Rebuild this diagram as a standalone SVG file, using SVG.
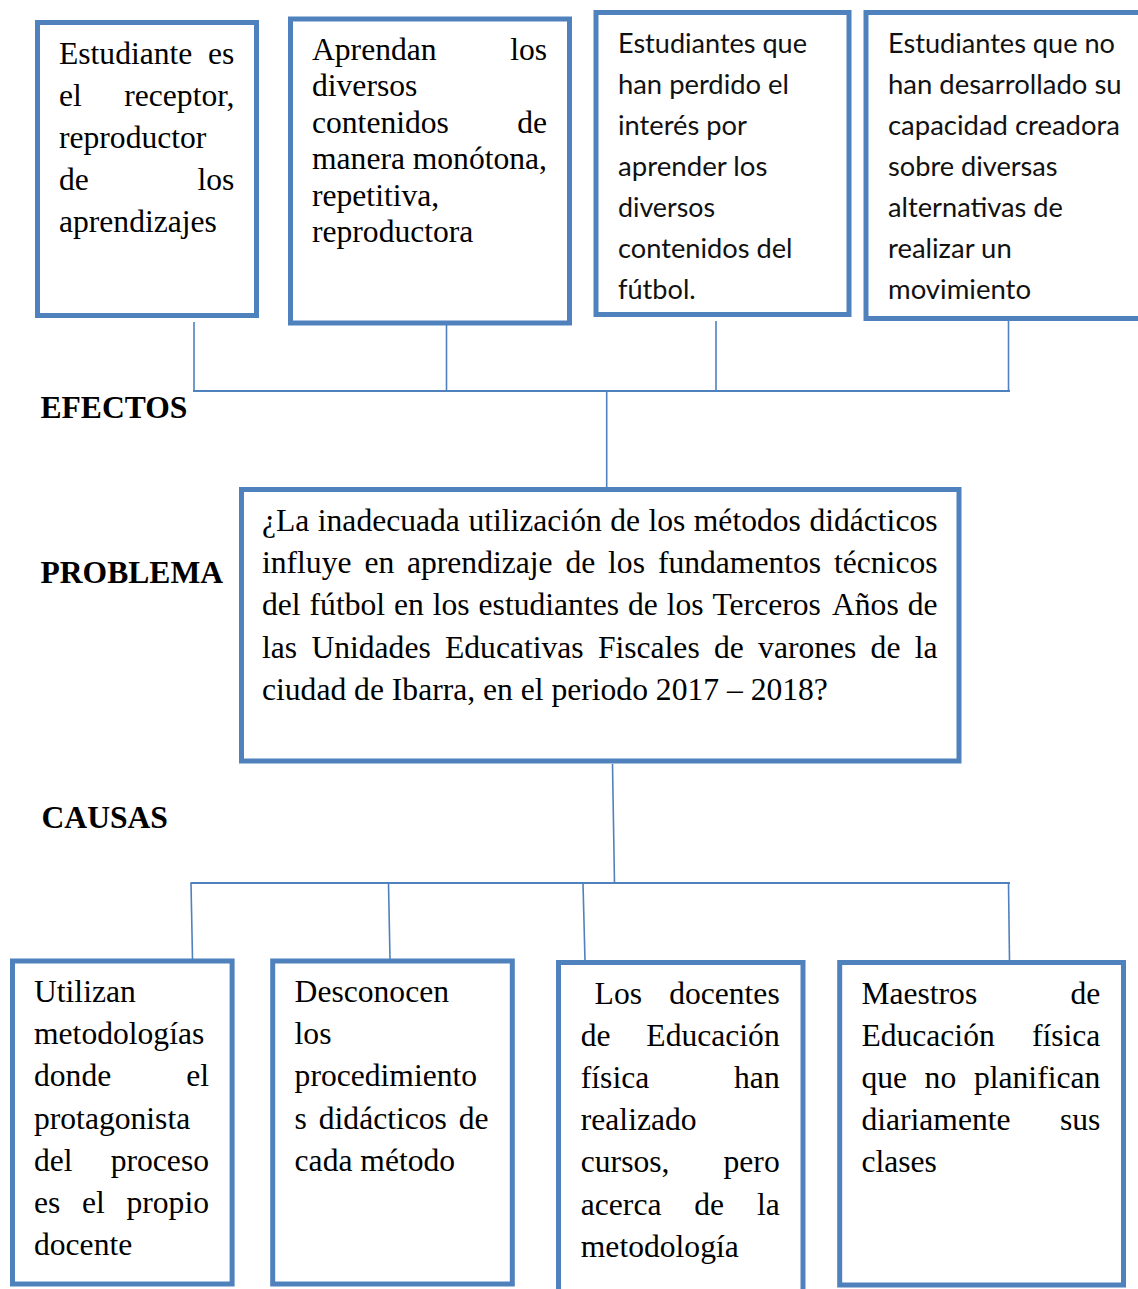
<svg xmlns="http://www.w3.org/2000/svg" width="1138" height="1289" viewBox="0 0 1138 1289">
<style>
.box{fill:#fff;stroke:#4F81BD;stroke-width:5}
.conn line{stroke:#4F81BD;stroke-width:1.6;fill:none}
.s{font-family:"Liberation Serif","Times New Roman",serif;font-size:31.6px;fill:#000}
.e{text-anchor:end}
.ss{font-family:Lato,"Open Sans",sans-serif;font-size:26px;fill:#111}
.lbl{font-family:"Liberation Serif","Times New Roman",serif;font-size:31.6px;font-weight:bold;fill:#000}
</style>
<rect width="1138" height="1289" fill="#fff"/>
<g id="connectors" class="conn">
<line x1="194" y1="322" x2="194" y2="391"/>
<line x1="446.5" y1="325" x2="446.5" y2="391"/>
<line x1="716" y1="321" x2="716" y2="391"/>
<line x1="1008.5" y1="320" x2="1008.5" y2="391"/>
<line x1="193" y1="391" x2="1010" y2="391" style="stroke-width:2"/>
<line x1="606.7" y1="391" x2="606.7" y2="488"/>
<line x1="612.5" y1="764" x2="614.5" y2="884"/>
<line x1="190.5" y1="883" x2="1010" y2="883" style="stroke-width:2"/>
<line x1="191" y1="883" x2="192.5" y2="959"/>
<line x1="388.5" y1="883" x2="390" y2="959"/>
<line x1="583" y1="883" x2="585" y2="961"/>
<line x1="1008.5" y1="883" x2="1009.5" y2="961"/>
</g>
<g id="labels">
<text class="lbl" x="40.5" y="418">EFECTOS</text>
<text class="lbl" x="40.5" y="583">PROBLEMA</text>
<text class="lbl" x="41.5" y="828">CAUSAS</text>
</g>
<g id="efecto1">
<rect class="box" x="37.5" y="22.5" width="219" height="293"/>
<text class="s" x="59" y="63.5">Estudiante</text><text class="s e" x="234.4" y="63.5">es</text>
<text class="s" x="59" y="105.7">el</text><text class="s e" x="234.4" y="105.7">receptor,</text>
<text class="s" x="59" y="147.9">reproductor</text>
<text class="s" x="59" y="190.1">de</text><text class="s e" x="234.4" y="190.1">los</text>
<text class="s" x="59" y="232.3">aprendizajes</text>
</g>
<g id="efecto2">
<rect class="box" x="290.5" y="19" width="279" height="304"/>
<text class="s" x="312" y="60">Aprendan</text><text class="s e" x="547" y="60">los</text>
<text class="s" x="312" y="96.4">diversos</text>
<text class="s" x="312" y="132.8">contenidos</text><text class="s e" x="547" y="132.8">de</text>
<text class="s" x="312" y="169.2">manera</text><text class="s e" x="547" y="169.2">monótona,</text>
<text class="s" x="312" y="205.6">repetitiva,</text>
<text class="s" x="312" y="242">reproductora</text>
</g>
<g id="efecto3">
<rect class="box" x="596" y="12.5" width="253" height="302"/>
<text class="ss" x="618" y="52.5" textLength="189" lengthAdjust="spacingAndGlyphs">Estudiantes que</text>
<text class="ss" x="618" y="93.5" textLength="171" lengthAdjust="spacingAndGlyphs">han perdido el</text>
<text class="ss" x="618" y="134.5" textLength="129" lengthAdjust="spacingAndGlyphs">interés por</text>
<text class="ss" x="618" y="175.5" textLength="149.5" lengthAdjust="spacingAndGlyphs">aprender los</text>
<text class="ss" x="618" y="216.5" textLength="97" lengthAdjust="spacingAndGlyphs">diversos</text>
<text class="ss" x="618" y="257.5" textLength="174.5" lengthAdjust="spacingAndGlyphs">contenidos del</text>
<text class="ss" x="618" y="298.5" textLength="77.7" lengthAdjust="spacingAndGlyphs">fútbol.</text>
</g>
<g id="efecto4">
<rect class="box" x="866" y="12.5" width="300" height="306"/>
<text class="ss" x="888" y="52.5" textLength="227" lengthAdjust="spacingAndGlyphs">Estudiantes que no</text>
<text class="ss" x="888" y="93.5" textLength="233.6" lengthAdjust="spacingAndGlyphs">han desarrollado su</text>
<text class="ss" x="888" y="134.5" textLength="232" lengthAdjust="spacingAndGlyphs">capacidad creadora</text>
<text class="ss" x="888" y="175.5" textLength="169.6" lengthAdjust="spacingAndGlyphs">sobre diversas</text>
<text class="ss" x="888" y="216.5" textLength="175" lengthAdjust="spacingAndGlyphs">alternativas de</text>
<text class="ss" x="888" y="257.5" textLength="123.7" lengthAdjust="spacingAndGlyphs">realizar un</text>
<text class="ss" x="888" y="298.5" textLength="143" lengthAdjust="spacingAndGlyphs">movimiento</text>
</g>
<g id="problema">
<rect class="box" x="241.5" y="489.5" width="717.5" height="271.5"/>
<text class="s" y="531"><tspan x="262">¿La</tspan><tspan x="317.8">inadecuada</tspan><tspan x="468.4">utilización</tspan><tspan x="610.3">de</tspan><tspan x="648.5">los</tspan><tspan x="693.8">métodos</tspan></text><text class="s e" x="937.5" y="531">didácticos</text>
<text class="s" y="573.2"><tspan x="262">influye</tspan><tspan x="364.4">en</tspan><tspan x="407">aprendizaje</tspan><tspan x="565.5">de</tspan><tspan x="608.1">los</tspan><tspan x="657.9">fundamentos</tspan></text><text class="s e" x="937.5" y="573.2">técnicos</text>
<text class="s" y="615.4"><tspan x="262">del</tspan><tspan x="309.6">fútbol</tspan><tspan x="394">en</tspan><tspan x="432.8">los</tspan><tspan x="478.6">estudiantes</tspan><tspan x="628">de</tspan><tspan x="666.7">los</tspan><tspan x="712.5">Terceros</tspan><tspan x="832">Años</tspan></text><text class="s e" x="937.5" y="615.4">de</text>
<text class="s" y="657.6"><tspan x="262">las</tspan><tspan x="311.4">Unidades</tspan><tspan x="445">Educativas</tspan><tspan x="597.9">Fiscales</tspan><tspan x="714">de</tspan><tspan x="758.1">varones</tspan><tspan x="870.6">de</tspan></text><text class="s e" x="937.5" y="657.6">la</text>
<text class="s" x="262" y="699.8">ciudad de Ibarra, en el periodo 2017 – 2018?</text>
</g>
<g id="causa1">
<rect class="box" x="12.5" y="961" width="219.6" height="323"/>
<text class="s" x="34" y="1002">Utilizan</text>
<text class="s" x="34" y="1044.2">metodologías</text>
<text class="s" x="34" y="1086.4">donde</text><text class="s e" x="209" y="1086.4">el</text>
<text class="s" x="34" y="1128.6">protagonista</text>
<text class="s" x="34" y="1170.8">del</text><text class="s e" x="209" y="1170.8">proceso</text>
<text class="s" y="1213"><tspan x="34">es</tspan><tspan x="82">el</tspan></text><text class="s e" x="209" y="1213">propio</text>
<text class="s" x="34" y="1255.2">docente</text>
</g>
<g id="causa2">
<rect class="box" x="272.7" y="961" width="239.6" height="323"/>
<text class="s" x="294.6" y="1002">Desconocen</text>
<text class="s" x="294.6" y="1044.2">los</text>
<text class="s" x="294.6" y="1086.4">procedimiento</text>
<text class="s" y="1128.6"><tspan x="294.6">s</tspan><tspan x="318.8">didácticos</tspan></text><text class="s e" x="488.6" y="1128.6">de</text>
<text class="s" x="294.6" y="1170.8">cada método</text>
</g>
<g id="causa3">
<rect class="box" x="558.5" y="962.5" width="244.5" height="340"/>
<text class="s" x="594.6" y="1003.5">Los</text><text class="s e" x="779.7" y="1003.5">docentes</text>
<text class="s" x="580.8" y="1045.7">de</text><text class="s e" x="779.7" y="1045.7">Educación</text>
<text class="s" x="580.8" y="1087.9">física</text><text class="s e" x="779.7" y="1087.9">han</text>
<text class="s" x="580.8" y="1130.1">realizado</text>
<text class="s" x="580.8" y="1172.3">cursos,</text><text class="s e" x="779.7" y="1172.3">pero</text>
<text class="s" y="1214.5"><tspan x="580.8">acerca</tspan><tspan x="694.3">de</tspan></text><text class="s e" x="779.7" y="1214.5">la</text>
<text class="s" x="580.8" y="1256.7">metodología</text>
</g>
<g id="causa4">
<rect class="box" x="839.7" y="962.5" width="283.8" height="322.5"/>
<text class="s" x="861.4" y="1003.5">Maestros</text><text class="s e" x="1100.3" y="1003.5">de</text>
<text class="s" x="861.4" y="1045.7">Educación</text><text class="s e" x="1100.3" y="1045.7">física</text>
<text class="s" y="1087.9"><tspan x="861.4">que</tspan><tspan x="924.6">no</tspan></text><text class="s e" x="1100.3" y="1087.9">planifican</text>
<text class="s" x="861.4" y="1130.1">diariamente</text><text class="s e" x="1100.3" y="1130.1">sus</text>
<text class="s" x="861.4" y="1172.3">clases</text>
</g>
</svg>
